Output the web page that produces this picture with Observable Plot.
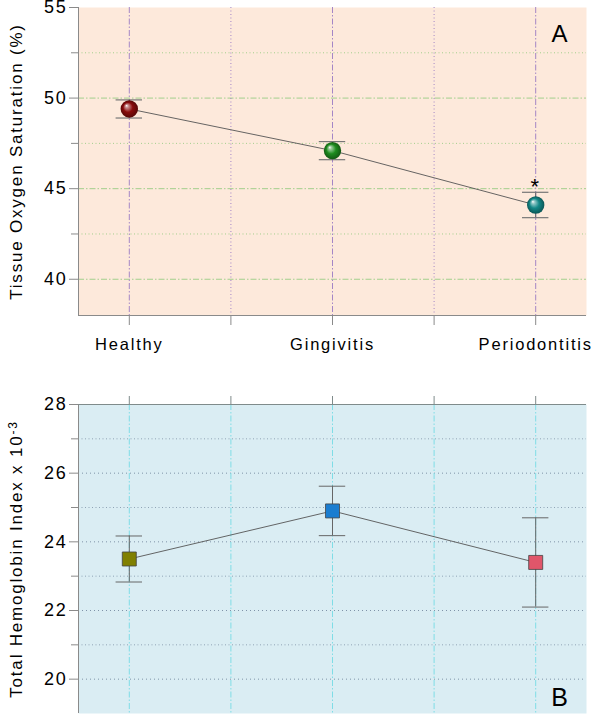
<!DOCTYPE html>
<html>
<head>
<meta charset="utf-8">
<script src="https://cdn.jsdelivr.net/npm/d3@7"></script>
<script src="https://cdn.jsdelivr.net/npm/@observablehq/plot@0.6"></script>
<style>
  html, body { margin: 0; padding: 0; background: #fff; overflow: hidden; }
  #chart svg { display: block; }
</style>
</head>
<body>
<div id="chart"></div>
<script>
// ---- data ----
const categories = ["Healthy", "Gingivitis", "Periodontitis"];
const catPos = [1, 2, 3];
const so2Mean = [49.4, 47.1, 44.1];
const so2Err = [0.5, 0.5, 0.7];
const hbMean = [23.5, 24.9, 23.4];
const hbErr = [0.67, 0.72, 1.3];
const ballColors = ["#8a0b0b", "#1e8c1e", "#138888"];
const squareColors = ["#808000", "#1a7dd0", "#e0566a"];
const so2Major = [40, 45, 50, 55];
const so2Minor = [42.5, 47.5, 52.5];
const hbMajor = [20, 22, 24, 26, 28];
const hbMinor = [21, 23, 25, 27];
const xTicks = [1, 1.5, 2, 2.5, 3];
const titleA = "Tissue Oxygen Saturation (%)";
const titleB = "Total Hemoglobin Index x 10";
const titleBsup = "-3";
const sigMarks = ["", "", "*"];

const FONT = "'Liberation Sans', Arial, Helvetica, sans-serif";
const rowsA = categories.map((c, i) => ({cat: c, x: catPos[i], m: so2Mean[i], e: so2Err[i], fill: `url(#ball${i})`, sig: sigMarks[i]}));
const rowsB = categories.map((c, i) => ({cat: c, x: catPos[i], m: hbMean[i], e: hbErr[i], fill: squareColors[i]}));
const capW = 0.065;
const baseStyle = {fontFamily: FONT, fontSize: "17px", letterSpacing: "1.8px", color: "#000", background: "transparent", overflow: "visible"};

const chartTop = Plot.plot({
  width: 600, height: 360,
  marginTop: 7, marginBottom: 45, marginLeft: 78, marginRight: 14,
  style: baseStyle,
  x: {domain: [0.75, 3.25]},
  y: {domain: [38, 55]},
  color: {type: "identity"},
  marks: [
    Plot.frame({fill: "#fde9db", stroke: "none"}),
    Plot.gridY(so2Minor, {stroke: "#a3cf8c", strokeOpacity: 1, strokeDasharray: "1,2.5"}),
    Plot.gridY([40, 45, 50], {stroke: "#a3cf8c", strokeOpacity: 1, strokeDasharray: "6,2,1.5,2"}),
    Plot.gridX([1.5, 2.5], {stroke: "#a486c6", strokeOpacity: 1, strokeDasharray: "1,2.5"}),
    Plot.gridX([1, 2, 3], {stroke: "#a486c6", strokeOpacity: 1, strokeDasharray: "6,2,1.5,2"}),
    Plot.ruleX([0.75], {stroke: "#8a8a8a"}),
    Plot.ruleY([38], {stroke: "#8a8a8a"}),
    Plot.axisY(so2Major, {tickSize: 9, tickPadding: 2, stroke: "#8a8a8a", fill: "#000", fontSize: 18, label: null}),
    Plot.axisY(so2Minor, {tickSize: 7, tickFormat: () => "", stroke: "#8a8a8a", label: null}),
    Plot.axisX(xTicks, {tickSize: 10, tickPadding: 13, stroke: "#8a8a8a", fill: "#000", fontSize: 16.5,
      tickFormat: d => Number.isInteger(d) ? categories[d - 1] : "", label: null}),
    Plot.line(rowsA, {x: "x", y: "m", stroke: "#555", strokeWidth: 0.9}),
    Plot.ruleX(rowsA, {x: "x", y1: d => d.m - d.e, y2: d => d.m + d.e, stroke: "#666", strokeWidth: 1}),
    Plot.ruleY(rowsA, {y: d => d.m + d.e, x1: d => d.x - capW, x2: d => d.x + capW, stroke: "#777", strokeWidth: 1.2}),
    Plot.ruleY(rowsA, {y: d => d.m - d.e, x1: d => d.x - capW, x2: d => d.x + capW, stroke: "#777", strokeWidth: 1.2}),
    Plot.dot(rowsA, {x: "x", y: "m", r: 8.7, fill: "fill", stroke: "none"}),
    Plot.text(rowsA, {x: "x", y: d => d.m + d.e, text: "sig", lineAnchor: "bottom", dy: 2, fontSize: 22, fill: "#000"}),
    Plot.text(["A"], {frameAnchor: "top-right", dx: -26, dy: 34, lineAnchor: "bottom", textAnchor: "middle", fontSize: 24, fill: "#000"}),
    Plot.text([titleA], {frameAnchor: "left", textAnchor: "middle", dx: -62, rotate: -90, fontSize: 17, fill: "#000"})
  ]
});

const chartBottom = Plot.plot({
  width: 600, height: 355,
  marginTop: 44, marginBottom: 2, marginLeft: 78, marginRight: 14,
  style: baseStyle,
  x: {domain: [0.75, 3.25]},
  y: {domain: [19, 28]},
  color: {type: "identity"},
  marks: [
    Plot.frame({fill: "#daedf3", stroke: "none"}),
    Plot.gridY(hbMinor, {stroke: "#8fa3b5", strokeOpacity: 1, strokeDasharray: "1,2.5"}),
    Plot.gridY([20, 22, 24, 26], {stroke: "#7f93a8", strokeOpacity: 1, strokeDasharray: "1,3"}),
    Plot.gridX(xTicks, {stroke: "#7fdde6", strokeOpacity: 1, strokeDasharray: "6,2,1.5,2"}),
    Plot.ruleX([0.75], {stroke: "#8a8a8a"}),
    Plot.ruleY([28], {stroke: "#7f8b8b"}),
    Plot.axisY(hbMajor, {tickSize: 9, tickPadding: 2, stroke: "#8a8a8a", fill: "#000", fontSize: 18, label: null}),
    Plot.axisY(hbMinor, {tickSize: 7, tickFormat: () => "", stroke: "#8a8a8a", label: null}),
    Plot.axisX(xTicks, {anchor: "top", tickSize: 9, tickFormat: () => "", stroke: "#7f8b8b", label: null}),
    Plot.line(rowsB, {x: "x", y: "m", stroke: "#555", strokeWidth: 0.9}),
    Plot.ruleX(rowsB, {x: "x", y1: d => d.m - d.e, y2: d => d.m + d.e, stroke: "#666", strokeWidth: 1}),
    Plot.ruleY(rowsB, {y: d => d.m + d.e, x1: d => d.x - capW, x2: d => d.x + capW, stroke: "#666", strokeWidth: 1}),
    Plot.ruleY(rowsB, {y: d => d.m - d.e, x1: d => d.x - capW, x2: d => d.x + capW, stroke: "#666", strokeWidth: 1}),
    Plot.dot(rowsB, {x: "x", y: "m", symbol: "square", r: 7.9, fill: "fill", stroke: "#444", strokeWidth: 0.8}),
    Plot.text(["B"], {frameAnchor: "bottom-right", dx: -26, dy: -8, lineAnchor: "bottom", textAnchor: "middle", fontSize: 25, fill: "#000"}),
    Plot.text([titleB], {frameAnchor: "left", textAnchor: "middle", dx: -62, rotate: -90, fontSize: 17, fill: "#000"})
  ]
});

// radial gradients for glossy balls
const defs = d3.select(chartTop).insert("defs", ":first-child");
ballColors.forEach((c, i) => {
  const base = d3.color(c);
  const g = defs.append("radialGradient").attr("id", `ball${i}`)
    .attr("cx", "50%").attr("cy", "50%").attr("r", "50%").attr("fx", "33%").attr("fy", "30%");
  g.append("stop").attr("offset", "0%").attr("stop-color", "#ffffff");
  g.append("stop").attr("offset", "18%").attr("stop-color", d3.interpolateRgb(c, "#fff")(0.55));
  g.append("stop").attr("offset", "55%").attr("stop-color", base.formatHex());
  g.append("stop").attr("offset", "100%").attr("stop-color", base.darker(1.3).formatHex());
});

// superscript in the lower y title
d3.select(chartBottom).selectAll("text").filter(function () { return this.textContent === titleB; })
  .each(function () {
    d3.select(this).append("tspan").attr("dy", "-0.45em").attr("font-size", "12px").text(titleBsup);
  });

document.getElementById("chart").append(chartTop, chartBottom);
</script>
</body>
</html>
